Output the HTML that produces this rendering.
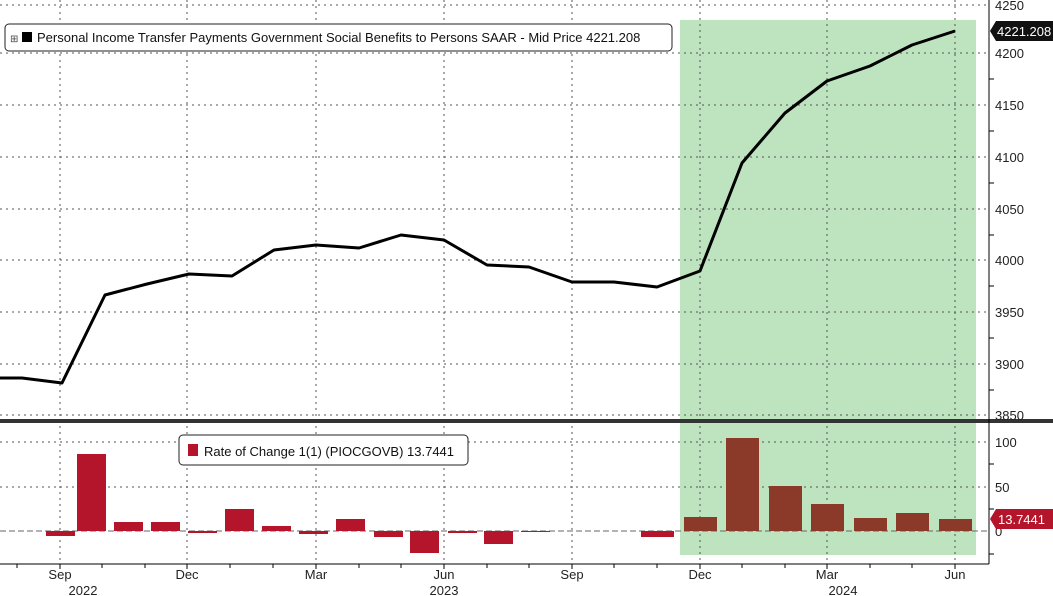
<!DOCTYPE html>
<html><head><meta charset="utf-8"><style>
body{margin:0;background:#fff;}
svg{display:block;font-family:"Liberation Sans",sans-serif;}
</style></head><body>
<svg width="1053" height="596" viewBox="0 0 1053 596" xmlns="http://www.w3.org/2000/svg">
<rect width="1053" height="596" fill="#fff"/>
<rect x="680" y="20" width="296" height="535" fill="#bde3bf"/>
<g stroke="#555" stroke-width="1" stroke-dasharray="2,4">
<line x1="0" y1="5" x2="989" y2="5"/><line x1="0" y1="53" x2="989" y2="53"/><line x1="0" y1="105" x2="989" y2="105"/>
<line x1="0" y1="157" x2="989" y2="157"/><line x1="0" y1="209" x2="989" y2="209"/><line x1="0" y1="260" x2="989" y2="260"/>
<line x1="0" y1="312" x2="989" y2="312"/><line x1="0" y1="364" x2="989" y2="364"/><line x1="0" y1="415" x2="989" y2="415"/>
<line x1="0" y1="442" x2="989" y2="442"/><line x1="0" y1="487" x2="989" y2="487"/>
<line x1="60" y1="0" x2="60" y2="564"/><line x1="187" y1="0" x2="187" y2="564"/><line x1="316" y1="0" x2="316" y2="564"/><line x1="444" y1="0" x2="444" y2="564"/><line x1="572" y1="0" x2="572" y2="564"/><line x1="700" y1="0" x2="700" y2="564"/><line x1="827" y1="0" x2="827" y2="564"/><line x1="955" y1="0" x2="955" y2="564"/>
</g>
<line x1="0" y1="531" x2="989" y2="531" stroke="#666" stroke-dasharray="6,3"/>
<polyline fill="none" stroke="#000" stroke-width="3" stroke-linejoin="round" points="0,378 22,378 62,383 105,295 147,284 189,274 232,276 274,250 316,245 359,248 401,235 444,240 487,265 529,267 572,282 614,282 657,287 700,271 742,163 785,113 827,81 870,66 912,45 955,31"/>
<g fill="#b5152b">
<rect x="46" y="531" width="29" height="5"/><rect x="77" y="454" width="29" height="77"/><rect x="114" y="522" width="29" height="9"/><rect x="151" y="522" width="29" height="9"/>
<rect x="188" y="531" width="29" height="2"/><rect x="225" y="509" width="29" height="22"/><rect x="262" y="526" width="29" height="5"/><rect x="299" y="531" width="29" height="3"/>
<rect x="336" y="519" width="29" height="12"/><rect x="374" y="531" width="29" height="6"/><rect x="410" y="531" width="29" height="22"/><rect x="448" y="531" width="29" height="2"/>
<rect x="484" y="531" width="29" height="13"/><rect x="521" y="531" width="29" height="1"/><rect x="641" y="531" width="33" height="6"/>
</g>
<g fill="#8b3a2a">
<rect x="684" y="517" width="33" height="14"/><rect x="726" y="438" width="33" height="93"/><rect x="769" y="486" width="33" height="45"/><rect x="811" y="504" width="33" height="27"/>
<rect x="854" y="518" width="33" height="13"/><rect x="896" y="513" width="33" height="18"/><rect x="939" y="519" width="33" height="12"/>
</g>
<rect x="0" y="419" width="1053" height="4" fill="#333"/>
<line x1="989" y1="0" x2="989" y2="564" stroke="#000"/>
<line x1="0" y1="564" x2="989" y2="564" stroke="#000"/>
<g stroke="#000">
<line x1="989" y1="79" x2="994" y2="79"/><line x1="989" y1="131" x2="994" y2="131"/><line x1="989" y1="183" x2="994" y2="183"/><line x1="989" y1="235" x2="994" y2="235"/><line x1="989" y1="286" x2="994" y2="286"/><line x1="989" y1="338" x2="994" y2="338"/><line x1="989" y1="390" x2="994" y2="390"/>
<line x1="989" y1="464" x2="994" y2="464"/><line x1="989" y1="509" x2="994" y2="509"/><line x1="989" y1="554" x2="994" y2="554"/>
<line x1="17" y1="564" x2="17" y2="568"/><line x1="60" y1="564" x2="60" y2="569"/><line x1="102" y1="564" x2="102" y2="568"/><line x1="145" y1="564" x2="145" y2="568"/><line x1="187" y1="564" x2="187" y2="569"/><line x1="230" y1="564" x2="230" y2="568"/><line x1="273" y1="564" x2="273" y2="568"/><line x1="316" y1="564" x2="316" y2="569"/><line x1="359" y1="564" x2="359" y2="568"/><line x1="401" y1="564" x2="401" y2="568"/><line x1="444" y1="564" x2="444" y2="569"/><line x1="487" y1="564" x2="487" y2="568"/><line x1="529" y1="564" x2="529" y2="568"/><line x1="572" y1="564" x2="572" y2="569"/><line x1="614" y1="564" x2="614" y2="568"/><line x1="657" y1="564" x2="657" y2="568"/><line x1="700" y1="564" x2="700" y2="569"/><line x1="742" y1="564" x2="742" y2="568"/><line x1="785" y1="564" x2="785" y2="568"/><line x1="827" y1="564" x2="827" y2="569"/><line x1="870" y1="564" x2="870" y2="568"/><line x1="912" y1="564" x2="912" y2="568"/><line x1="955" y1="564" x2="955" y2="569"/>
</g>
<g font-size="13" fill="#222">
<text x="995" y="10">4250</text><text x="995" y="58">4200</text><text x="995" y="110">4150</text><text x="995" y="162">4100</text><text x="995" y="214">4050</text><text x="995" y="265">4000</text><text x="995" y="317">3950</text><text x="995" y="369">3900</text><text x="995" y="420">3850</text>
<text x="995" y="447">100</text><text x="995" y="492">50</text><text x="995" y="536">0</text>
<text x="60" y="579" text-anchor="middle">Sep</text><text x="187" y="579" text-anchor="middle">Dec</text><text x="316" y="579" text-anchor="middle">Mar</text><text x="444" y="579" text-anchor="middle">Jun</text><text x="572" y="579" text-anchor="middle">Sep</text><text x="700" y="579" text-anchor="middle">Dec</text><text x="827" y="579" text-anchor="middle">Mar</text><text x="955" y="579" text-anchor="middle">Jun</text>
<text x="83" y="595" text-anchor="middle">2022</text><text x="444" y="595" text-anchor="middle">2023</text><text x="843" y="595" text-anchor="middle">2024</text>
</g>
<path d="M990,31 L996,21 H1053 V41 H996 Z" fill="#111"/>
<text x="997" y="36" font-size="13" fill="#fff">4221.208</text>
<path d="M990,519 L996,509 H1053 V529 H996 Z" fill="#b5152b"/>
<text x="998" y="524" font-size="13" fill="#fff">13.7441</text>
<rect x="5" y="24" width="667" height="27" rx="4" fill="#fff" stroke="#222"/>
<text x="10" y="42" font-size="10" fill="#444">⊞</text>
<rect x="22" y="32" width="10" height="10" fill="#000"/>
<text x="37" y="42" font-size="13" fill="#111">Personal Income Transfer Payments Government Social Benefits to Persons SAAR - Mid Price 4221.208</text>
<rect x="179" y="435" width="289" height="30" rx="4" fill="#fff" stroke="#222"/>
<rect x="188" y="444" width="10" height="12" fill="#b5152b"/>
<text x="204" y="456" font-size="13" fill="#111">Rate of Change 1(1) (PIOCGOVB) 13.7441</text>
</svg>
</body></html>
